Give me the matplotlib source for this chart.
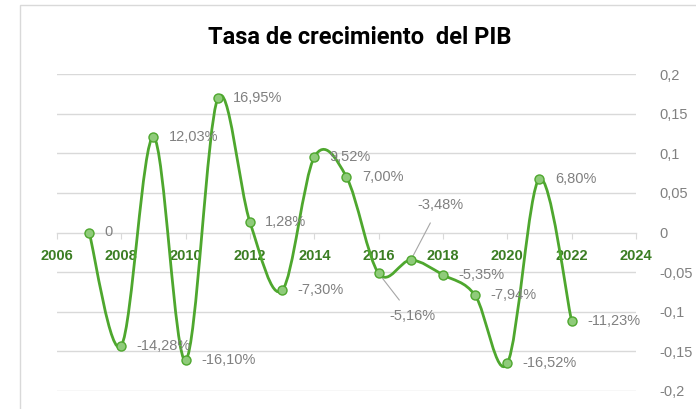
import numpy as np
import matplotlib
matplotlib.use("Agg")
import matplotlib.pyplot as plt
from matplotlib.path import Path
from matplotlib.patches import PathPatch, Rectangle

years = [2007, 2008, 2009, 2010, 2011, 2012, 2013, 2014, 2015,
         2016, 2017, 2018, 2019, 2020, 2021, 2022]
growth = [0.0, -0.1428, 0.1203, -0.1610, 0.1695, 0.0128, -0.0730, 0.0952,
          0.0700, -0.0516, -0.0348, -0.0535, -0.0794, -0.1652, 0.0680, -0.1123]
labels = ["0", "-14,28%", "12,03%", "-16,10%", "16,95%", "1,28%", "-7,30%",
          "9,52%", "7,00%", "-5,16%", "-3,48%", "-5,35%", "-7,94%",
          "-16,52%", "6,80%", "-11,23%"]
x_ticks = [2006, 2008, 2010, 2012, 2014, 2016, 2018, 2020, 2022, 2024]
y_ticks = [-0.2, -0.15, -0.1, -0.05, 0, 0.05, 0.1, 0.15, 0.2]
y_tick_labels = ["-0,2", "-0,15", "-0,1", "-0,05", "0", "0,05", "0,1", "0,15", "0,2"]

plt.rcParams["font.family"] = ["Liberation Sans", "DejaVu Sans"]

GREEN = "#4ea72e"
MARKER_FILL = "#8fcb7a"
GRID = "#d9d9d9"
TEXT_GREY = "#808080"
TICK_GREEN = "#3b7d23"

fig = plt.figure(figsize=(6.96, 4.09), dpi=100)
fig.patches.append(Rectangle((20 / 696, -0.1), 1.2, (409 - 5) / 409 + 0.1,
                             transform=fig.transFigure, fill=False,
                             edgecolor=GRID, linewidth=1.0))

ax = fig.add_axes([57 / 696, (409 - 391) / 409, (636 - 57) / 696, (391 - 74) / 409])
ax.set_xlim(2006, 2024)
ax.set_ylim(-0.2, 0.2)

# Horizontal gridlines
for yv in y_ticks:
    if yv != 0:
        ax.axhline(yv, color=GRID, linewidth=1.0, zorder=0)

# Axes styling: x axis crosses at zero, y labels on the right
for side in ["left", "right", "top"]:
    ax.spines[side].set_visible(False)
ax.spines["bottom"].set_position(("data", 0))
ax.spines["bottom"].set_color(GRID)
ax.spines["bottom"].set_linewidth(1.0)
ax.set_xticks(x_ticks)
ax.set_xticklabels([str(v) for v in x_ticks], fontweight="bold",
                   color=TICK_GREEN, fontsize=10.5)
ax.tick_params(axis="x", direction="out", length=4, color=GRID, pad=8)
ax.yaxis.tick_right()
ax.set_yticks(y_ticks)
ax.set_yticklabels(y_tick_labels, color=TEXT_GREY, fontsize=10.5)
ax.tick_params(axis="y", length=0, pad=17)

# Smoothed line (Catmull-Rom converted to cubic Bezier segments)
xs = np.array(years, dtype=float)
ys = np.array(growth, dtype=float)
pts = np.column_stack([xs, ys])
verts = [tuple(pts[0])]
codes = [Path.MOVETO]
n = len(pts)
for i in range(n - 1):
    p0 = pts[i - 1] if i > 0 else pts[i]
    p1 = pts[i]
    p2 = pts[i + 1]
    p3 = pts[i + 2] if i + 2 < n else pts[i + 1]
    c1 = p1 + (p2 - p0) / 6.0
    c2 = p2 - (p3 - p1) / 6.0
    verts += [tuple(c1), tuple(c2), tuple(p2)]
    codes += [Path.CURVE4] * 3
ax.add_patch(PathPatch(Path(verts, codes), facecolor="none", edgecolor=GREEN,
                       linewidth=2.0, zorder=3, capstyle="round"))

ax.plot(xs, ys, linestyle="none", marker="o", markersize=6.5,
        markerfacecolor=MARKER_FILL, markeredgecolor=GREEN,
        markeredgewidth=1.0, zorder=4)

# Data labels
for x, y, lab in zip(xs, ys, labels):
    if lab == "-5,16%":
        ax.annotate(lab, xy=(x, y), xytext=(24, -31), textcoords="offset points",
                    color=TEXT_GREY, fontsize=10.5, ha="center", va="center",
                    arrowprops=dict(arrowstyle="-", color="#a6a6a6", lw=0.8,
                                    shrinkA=6, shrinkB=3))
    elif lab == "-3,48%":
        ax.annotate(lab, xy=(x, y), xytext=(21, 40), textcoords="offset points",
                    color=TEXT_GREY, fontsize=10.5, ha="center", va="center",
                    arrowprops=dict(arrowstyle="-", color="#a6a6a6", lw=0.8,
                                    shrinkA=7, shrinkB=3))
    else:
        ax.annotate(lab, xy=(x, y), xytext=(11, 0), textcoords="offset points",
                    color=TEXT_GREY, fontsize=10.5, ha="left", va="center")

fig.text(360 / 696, (409 - 37) / 409, "Tasa de crecimiento  del PIB", ha="center",
         va="center", fontsize=17, fontweight="bold", color="#000000",
         family=["Roboto", "DejaVu Sans"])

fig.savefig("out.png", dpi=100)
